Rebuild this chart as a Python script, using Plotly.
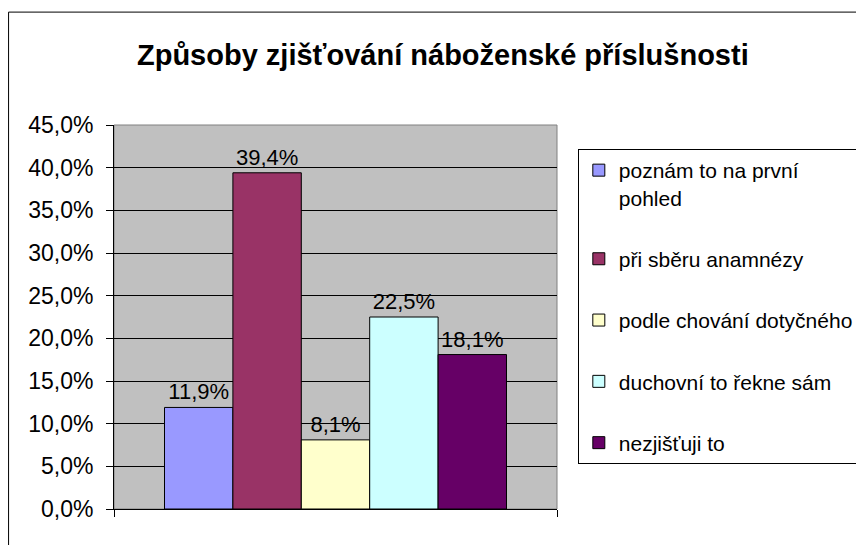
"""Způsoby zjišťování náboženské příslušnosti - bar chart."""

import plotly.graph_objects as go

categories = [
    "poznám to na první<br>pohled",
    "při sběru anamnézy",
    "podle chování dotyčného",
    "duchovní to řekne sám",
    "nezjišťuji to",
]
values = [0.119, 0.394, 0.081, 0.225, 0.181]
colors = ["#9999FF", "#993366", "#FFFFCC", "#CCFFFF", "#660066"]
tick_vals = [i * 0.05 for i in range(10)]

FONT = "Liberation Sans, Arial, sans-serif"

fig = go.Figure()

for i, (name, val, col) in enumerate(zip(categories, values, colors)):
    fig.add_trace(
        go.Bar(
            x=[""],
            y=[val],
            name=name,
            legendgroup=f"g{i}",
            marker=dict(color=col, line=dict(color="black", width=1)),
            text=[f"{val * 100:.1f}%".replace(".", ",")],
            textposition="outside",
            textfont=dict(size=22, color="black", family=FONT),
            cliponaxis=False,
        )
    )

# page body has an 8px margin, so the figure is sized to fit the window
fig.update_layout(
    width=856,
    height=537,
    barmode="group",
    bargap=0.228,
    bargroupgap=0,
    separators=", ",
    font=dict(family=FONT, size=23, color="black"),
    title=dict(
        text="<b>Způsoby zjišťování náboženské příslušnosti</b>",
        x=0.508,
        xanchor="center",
        y=0.9125,
        yanchor="middle",
        font=dict(size=29, color="black", family=FONT),
    ),
    plot_bgcolor="#C0C0C0",
    paper_bgcolor="white",
    margin=dict(l=106, r=307, t=117, b=36, autoexpand=False),
    showlegend=True,
    legend=dict(
        x=1.047,
        y=0.9375,
        xanchor="left",
        yanchor="top",
        bgcolor="white",
        bordercolor="black",
        borderwidth=1,
        font=dict(size=21, family=FONT),
        tracegroupgap=31,
        valign="top",
        itemclick=False,
    ),
    xaxis=dict(
        showgrid=False,
        showline=True,
        linecolor="black",
        linewidth=1,
        ticks="outside",
        tickson="boundaries",
        ticklen=7,
        tickcolor="black",
        showticklabels=False,
        range=[-0.5, 0.5],
    ),
    yaxis=dict(
        range=[0, 0.45],
        tickvals=tick_vals,
        tickformat=".1%",
        showgrid=True,
        gridcolor="black",
        gridwidth=1,
        showline=True,
        linecolor="black",
        linewidth=1,
        ticks="outside",
        ticklen=7,
        tickcolor="black",
        ticklabelstandoff=8,
        zeroline=False,
        tickfont=dict(size=23, family=FONT),
    ),
    shapes=[
        # plot area border (gray on top/right)
        dict(
            type="rect", xref="paper", yref="paper",
            x0=0, x1=1, y0=0, y1=1,
            line=dict(color="#808080", width=1),
            layer="below",
        ),
        # outer chart frame
        dict(
            type="rect", xref="paper", yref="paper",
            x0=-0.238, x1=1.8, y0=-0.2, y1=1.294,
            line=dict(color="black", width=1),
        ),
    ],
)

fig.write_html("out.html")
